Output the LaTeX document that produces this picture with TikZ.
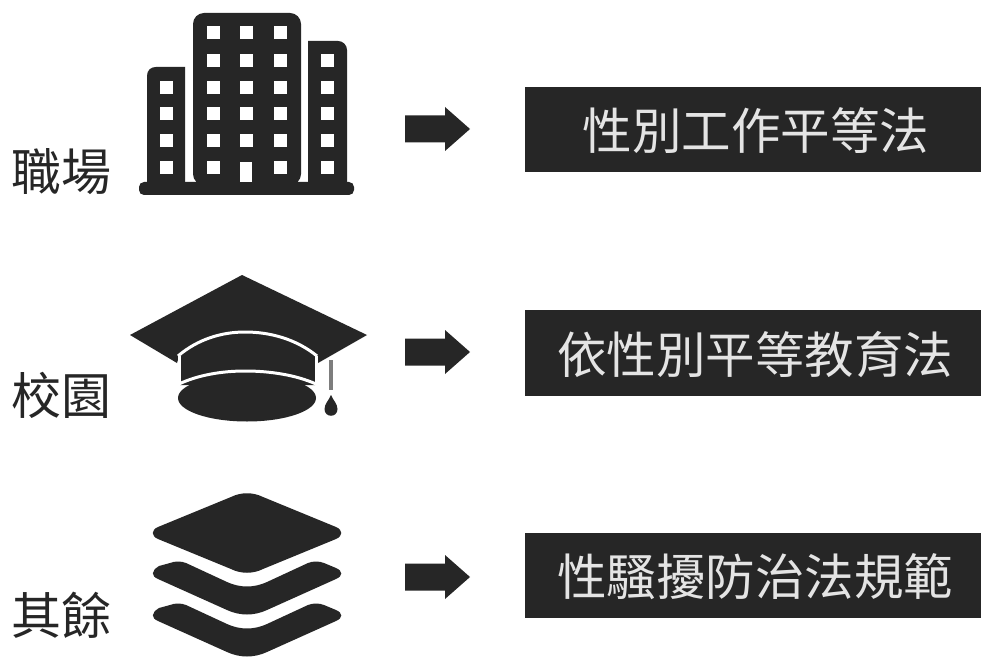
\documentclass[tikz,border=0pt]{standalone}
\usepackage{fontspec}
\newfontfamily\cjk{Noto Sans CJK TC}
\definecolor{ink}{HTML}{262626}
\definecolor{paper}{HTML}{FFFFFF}
\definecolor{boxtext}{HTML}{E4E4E4}
\tikzset{
  lawbox/.style={fill=ink,minimum width=456pt,minimum height=85.5pt,inner sep=0pt},
  lawtext/.style={text=boxtext,inner sep=0pt,font=\cjk\fontsize{49.5}{49.5}\selectfont},
  placelabel/.style={text=ink,inner sep=0pt,font=\cjk\fontsize{50}{50}\selectfont},
  window/.style={fill=paper,draw=none},
  soft/.style={rounded corners=#1,fill=ink,draw=none}
}
\begin{document}
\begin{tikzpicture}[x=1pt,y=-1pt]
\useasboundingbox[fill=paper] (0,0) rectangle (981,660);
% law boxes
\node[lawbox] (law1) at (753,129.5) {};
\node[lawbox] (law2) at (753,353) {};
\node[lawbox] (law3) at (753,575.5) {};
\node[lawtext] (law1t) at (756,131) {性別工作平等法};
\node[lawtext] (law2t) at (755,354.5) {依性別平等教育法};
\node[lawtext] (law3t) at (755,577) {性騷擾防治法規範};
% place labels
\node[placelabel] (place1) at (61,172) {職場};
\node[placelabel] (place2) at (61,395) {校園};
\node[placelabel] (place3) at (61,615) {其餘};
% arrows
\foreach \yy in {129,352,577}{
  \fill[ink] (405,\yy-13.5) -- (445,\yy-13.5) -- (445,\yy-22) -- (470,\yy) -- (445,\yy+22) -- (445,\yy+13.5) -- (405,\yy+13.5) -- cycle;
}
% building
\fill[ink] (147,185) -- (147,76) .. controls (147,70) and (151,67) .. (156,67) -- (185,67) -- (185,185) -- cycle;
\fill[soft=11pt] (193,185) -- (193,13) -- (301,13) -- (301,185) -- cycle;
\fill[ink] (308,185) -- (308,41) -- (338,41) .. controls (343,41) and (347,45) .. (347,50) -- (347,185) -- cycle;
\fill[soft=5pt] (139,182) rectangle (354,195);
\foreach \xx in {213,246,280}{
  \foreach \yy in {33,61,88,114,141}{
    \fill[window] (\xx-6.5,\yy-6.5) rectangle (\xx+6.5,\yy+6.5);
  }
}
\foreach \xx in {213,280}{\fill[window] (\xx-6.5,161.5) rectangle (\xx+6.5,174.5);}
\fill[window] (240,162) rectangle (252,182);
\foreach \yy in {88,114,141,168}{\fill[window] (159.5,\yy-6.5) rectangle (172.5,\yy+6.5);}
\foreach \yy in {61,88,114,141,168}{\fill[window] (320.5,\yy-6.5) rectangle (333.5,\yy+6.5);}
% graduation cap
\fill[ink] (242,275) -- (367,335) -- (318,363) -- (315,353) -- (180,353) -- (177,363) -- (130,335) -- cycle;
\fill[ink] (180,353) .. controls (200,338) and (222,332) .. (245,332) .. controls (270,332) and (295,338) .. (315,353) -- (315,385) -- (180,385) -- cycle;
\draw[paper,line width=3pt] (178,356) .. controls (198,339) and (222,332) .. (245,332) .. controls (270,332) and (296,339) .. (317,356);
\draw[paper,line width=3pt] (179,356) -- (179,384);
\draw[paper,line width=3pt] (316,356) -- (316,384);
\draw[paper,line width=3pt] (179,384) .. controls (198,375) and (222,371) .. (245,371) .. controls (270,371) and (296,375) .. (316,384);
\fill[ink] (247,398) ellipse [x radius=69,y radius=23.5];
\draw[ink!60,line width=4pt] (331,360) -- (331,390);
\fill[ink] (331,395) .. controls (333,400) and (337.5,404) .. (337.5,409) .. controls (337.5,418) and (324.5,418) .. (324.5,409) .. controls (324.5,404) and (329,400) .. (331,395) -- cycle;
% layers
\fill[ink] (231,497) .. controls (241,492) and (253,492) .. (263,497) -- (336,527) .. controls (343,530) and (343,536) .. (336,539) -- (263,569) .. controls (253,574) and (241,574) .. (231,569) -- (158,539) .. controls (151,536) and (151,530) .. (158,527) -- cycle;
\foreach \dy in {0,42}{
  \fill[ink,shift={(0,\dy)}] (159,566) -- (170,563) .. controls (175,561) and (181,561) .. (186,563) -- (227,582) .. controls (240,588) and (254,588) .. (267,582) -- (308,563) .. controls (313,561) and (319,561) .. (324,563) -- (336,568) .. controls (343,571) and (343,576) .. (336,579) -- (267,610) .. controls (254,616) and (240,616) .. (227,610) -- (158,579) .. controls (151,576) and (151,571) .. (159,566) -- cycle;
}
\end{tikzpicture}
\end{document}
